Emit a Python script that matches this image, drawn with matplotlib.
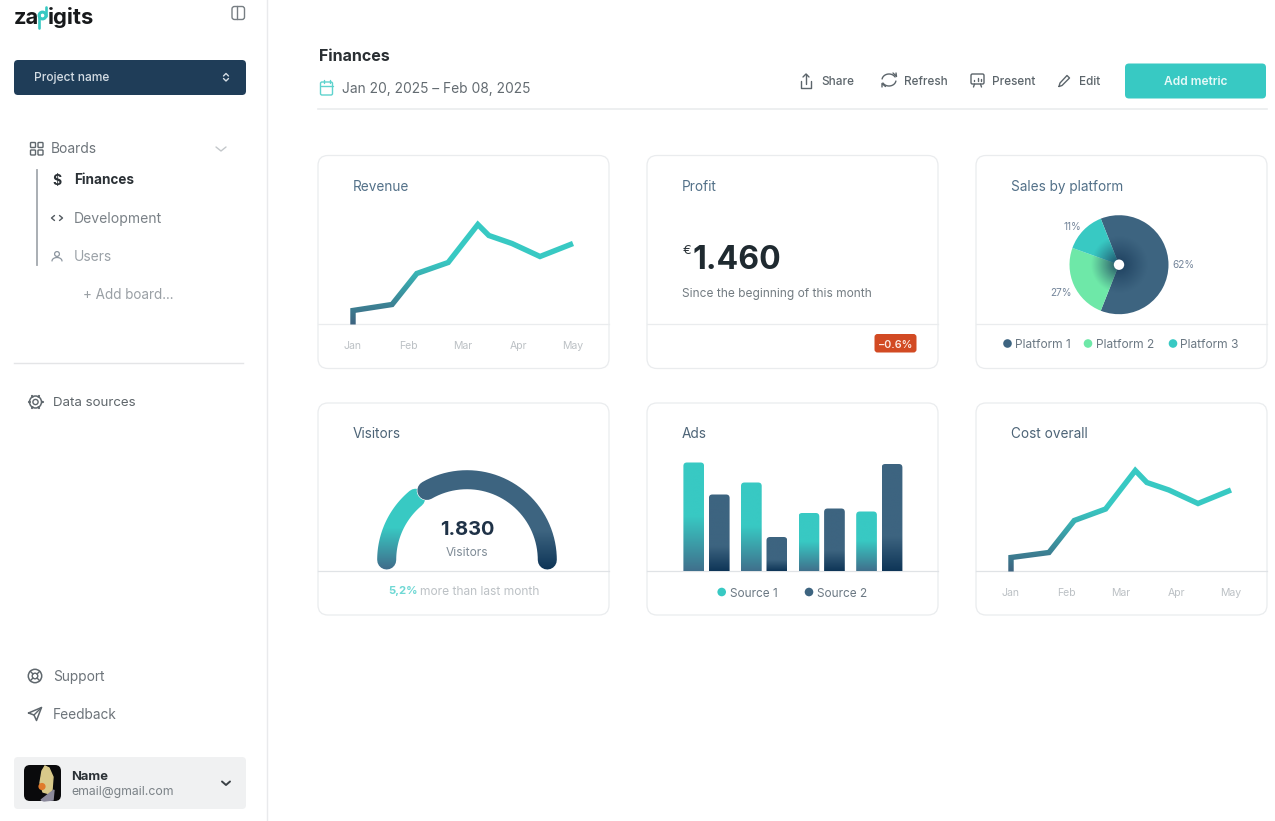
import numpy as np
import matplotlib
matplotlib.use("Agg")
import matplotlib.pyplot as plt
from matplotlib.colors import to_rgb
from matplotlib.patches import FancyBboxPatch, Circle
from matplotlib.transforms import Bbox

W, H = 1275, 821
plt.rcParams['font.family'] = ['Inter', 'DejaVu Sans']

TEAL = '#38c9c3'
NAVY = '#3d6480'
DEEP = '#0e3557'
MINT = '#6ee8a8'
BORDER = '#eaecee'

# data
months = ['Jan', 'Feb', 'Mar', 'Apr', 'May']
revenue_x = [0, 0, 0.71, 1.16, 1.73, 2.27, 2.47, 2.89, 3.4, 4.0]
revenue_y = [0, 14, 20, 51, 62, 100, 89, 81, 68, 81]
cost_x = [0, 0, 0.69, 1.15, 1.72, 2.26, 2.47, 2.87, 3.4, 4.0]
cost_y = [0, 14, 19, 51, 62.5, 101, 89, 81.5, 68, 81.5]
pie_values = [62, 24.5, 13.5]
pie_labels = ['62%', '27%', '11%']
platforms = ['Platform 1', 'Platform 2', 'Platform 3']
ads_source1 = [109, 89, 58.5, 60]
ads_source2 = [77, 34.5, 63, 107.5]
gauge_teal_deg = [180, 129.7]
gauge_navy_deg = [120, 0]
profit_value = '1.460'
visitors_value = '1.830'

fig = plt.figure(figsize=(W / 100, H / 100), dpi=100, facecolor='white')
ui = fig.add_axes([0, 0, 1, 1], zorder=0)
ui.set_xlim(0, W)
ui.set_ylim(H, 0)
ui.axis('off')


def px_axes(x0, y0, x1, y1):
    ax = fig.add_axes([x0 / W, 1 - y1 / H, (x1 - x0) / W, (y1 - y0) / H], zorder=2)
    ax.patch.set_alpha(0)
    return ax


def txt(x, y, s, size, color, weight='normal', ha='left', va='center_baseline'):
    # size is in pixels of the 100 dpi figure
    return ui.text(x, y, s, fontsize=size * 0.72, color=color, fontweight=weight, ha=ha, va=va)


def box(x0, y0, x1, y1, r, fc, ec='none', lw=0, zorder=1):
    p = FancyBboxPatch((x0 + r, y0 + r), x1 - x0 - 2 * r, y1 - y0 - 2 * r,
                       boxstyle='round,pad=%f,rounding_size=%f' % (r, r),
                       fc=fc, ec=ec, lw=lw, zorder=zorder)
    ui.add_patch(p)
    return p


def ln(xs, ys, color, lw=1.0, **kw):
    ui.plot(xs, ys, color=color, lw=lw, solid_capstyle=kw.pop('cap', 'round'),
            solid_joinstyle='round', zorder=kw.pop('zorder', 3), **kw)


def ring(x, y, r, color, lw=1.0, fc='none'):
    ui.add_patch(Circle((x, y), r, fc=fc, ec=color, lw=lw, zorder=3))


def mix(c1, c2, t):
    a, b = np.array(to_rgb(c1)), np.array(to_rgb(c2))
    return tuple(a + (b - a) * t)


def gradient_stroke(ax, xs, ys, top_px, bot_px, c_top, c_bot, **kw):
    # same line drawn once per pixel row, each copy clipped to its row
    top_px, bot_px = int(top_px), int(bot_px)
    rows = [(0, top_px, c_top)]
    for row in range(top_px, bot_px):
        rows.append((row, row + 1, mix(c_top, c_bot, (row - top_px) / (bot_px - top_px - 1))))
    rows.append((bot_px, H, c_bot))
    for r0, r1, c in rows:
        line, = ax.plot(xs, ys, color=c, **kw)
        line.set_snap(False)
        line.set_clip_box(Bbox([[0, H - r1], [W, H - r0]]))


def trend(jan_px, base_px, xs, ys):
    ax = px_axes(jan_px, base_px - 110, jan_px + 220, base_px)
    ax.set_xlim(0, 4)
    ax.set_ylim(0, 110)
    ax.set_frame_on(False)
    ax.set_yticks([])
    ax.set_xticks(range(len(months)))
    ax.set_xticklabels(months, fontsize=10.5 * 0.72, color='#bcc1c5')
    ax.tick_params(axis='x', length=0, pad=12.2)
    gradient_stroke(ax, xs, ys, base_px - 65, base_px, TEAL, NAVY, lw=3.9,
                    solid_capstyle='butt', solid_joinstyle='miter')


# page frame
ui.plot([267, 267], [0, H], color='#e9eaec', lw=1.0)
ui.plot([318, 1267], [109.5, 109.5], color=BORDER, lw=1.2)

# cards
for cx0, cx1 in [(318, 609), (647, 938), (976, 1267)]:
    box(cx0, 155.5, cx1, 368.5, 10, 'white', BORDER, 0.9)
    box(cx0, 403, cx1, 615, 10, 'white', BORDER, 0.9)
    ui.plot([cx0, cx1], [324.5, 324.5], color=BORDER, lw=0.9, zorder=2)
    ui.plot([cx0, cx1], [571.5, 571.5], color='#e0e3e6', lw=0.9, zorder=2)

for x, y, s in [(353, 185.2, 'Revenue'), (682, 185.2, 'Profit'), (1011, 185.2, 'Sales by platform'),
                (353, 432, 'Visitors'), (682, 432, 'Ads'), (1011, 432, 'Cost overall')]:
    txt(x, y, s, 13.6, '#527088' if y < 300 else '#4d6477')

# line charts
trend(353, 324.5, revenue_x, revenue_y)
trend(1011, 571.5, cost_x, cost_y)

# profit card
txt(682.5, 249, '€', 13, '#2b3338')
txt(692, 257, profit_value, 32, '#1f2a30', 'bold')
txt(682, 292, 'Since the beginning of this month', 11.95, '#737c82')
box(874.5, 334, 916.5, 352.5, 3, '#d24a23')
txt(895.5, 343.5, '−0.6%', 10.8, '#fbe9e2', 'semibold', ha='center')

# pie
pie_ax = px_axes(1119 - 49.5, 264.7 - 49.5, 1119 + 49.5, 264.7 + 49.5)
wedges, _ = pie_ax.pie(pie_values, colors=[NAVY, MINT, TEAL], startangle=111.6, counterclock=False,
                       radius=1, wedgeprops=dict(linewidth=0))
gy, gx = np.mgrid[-1:1:300j, -1:1:300j]
rad = np.hypot(gx, gy)
shade = np.zeros(rad.shape + (4,))
shade[..., :3] = to_rgb('#1b3d5c')
shade[..., 3] = 0.92 * np.clip(1 - rad / 0.58, 0, 1) ** 1.1
im = pie_ax.imshow(shade, extent=(-1, 1, -1, 1), zorder=3, interpolation='bilinear')
im.set_clip_path(Circle((0, 0), 1, transform=pie_ax.transData))
pie_ax.add_patch(Circle((0, 0), 0.105, fc='white', ec='none', zorder=4))
pie_ax.set_xlim(-1, 1)
pie_ax.set_ylim(-1, 1)
for (x, y), s in zip([(1172, 263.5), (1050, 292), (1063, 226.5)], pie_labels):
    txt(x, y, s, 10, '#74859a')
for (dot_x, c), s in zip([(1007.5, NAVY), (1088, MINT), (1173, TEAL)], platforms):
    ui.add_patch(Circle((dot_x, 343.5), 4.3, fc=c, ec='none', zorder=3))
    txt(dot_x + 7.5, 344, s, 12, '#6b7883')

# gauge
g_ax = px_axes(367, 460, 567, 570)
g_ax.set_xlim(-100, 100)
g_ax.set_ylim(-10, 100)
g_ax.axis('off')
t = np.radians(np.linspace(gauge_teal_deg[0], gauge_teal_deg[1], 120))
gradient_stroke(g_ax, 80.3 * np.cos(t), 80.3 * np.sin(t), 527, 568, TEAL, '#3f6f8c',
                lw=13.7, solid_capstyle='round')
t = np.radians(np.linspace(gauge_navy_deg[0], gauge_navy_deg[1], 200))
g_ax.plot(80.3 * np.cos(t), 80.3 * np.sin(t), color='white', lw=14.6, solid_capstyle='round', clip_on=False)
gradient_stroke(g_ax, 80.3 * np.cos(t), 80.3 * np.sin(t), 530, 569, NAVY, DEEP,
                lw=13.7, solid_capstyle='round')
txt(467, 528, visitors_value, 20, '#1f3247', 'bold', ha='center')
txt(467, 551, 'Visitors', 12, '#7f8b96', ha='center')
txt(388, 590.5, '5,2%', 11.3, '#6fd8d4', 'bold')
txt(419.5, 590.5, 'more than last month', 12, '#bcc1c5')

# bars
step = 57.6
ads_ax = px_axes(648, 455, 938, 571.5)
xlim = ((648 - 706.5) / step, (938 - 706.5) / step)
ads_ax.axis('off')
bar_w = 20.7 / step


def grad_bar(x, h, c_top, c_bot, frac):
    f = np.linspace(1, 0, 200)[:, None]  # 1 at the top of the bar
    k = np.clip((frac - f) / frac, 0, 1)
    rgb = np.array(to_rgb(c_top)) + (np.array(to_rgb(c_bot)) - np.array(to_rgb(c_top))) * k[..., None]
    g = ads_ax.imshow(rgb, extent=(x - bar_w / 2, x + bar_w / 2, 0, h), aspect='auto', interpolation='bilinear')
    rad_x = 3.5 / step
    clip = FancyBboxPatch((x - bar_w / 2 + rad_x, -10), bar_w - 2 * rad_x, h + 10 - 3.5,
                          boxstyle='round,pad=%f,rounding_size=%f' % (rad_x, rad_x),
                          mutation_aspect=step, transform=ads_ax.transData, fc='none', ec='none')
    g.set_clip_path(clip)


for i, (a, b) in enumerate(zip(ads_source1, ads_source2)):
    grad_bar(i - 25.5 / step / 2, a, TEAL, '#40708c', 0.5)
    grad_bar(i + 25.5 / step / 2, b, NAVY, DEEP, 0.32)
ads_ax.set_xlim(*xlim)
ads_ax.set_ylim(0, 116.5)
for dot_x, c, s in [(721.7, TEAL, 'Source 1'), (809, NAVY, 'Source 2')]:
    ui.add_patch(Circle((dot_x, 592), 4.3, fc=c, ec='none', zorder=3))
    txt(dot_x + 8, 592.5, s, 11.8, '#6b7883')

# header
txt(319, 55, 'Finances', 16, '#2a2f33', 'bold')
txt(342, 88, 'Jan 20, 2025 – Feb 08, 2025', 13.8, '#636b71')
box(320.5, 82, 332.5, 95, 1.5, 'none', '#5fd3ce', 1.0, zorder=3)
ln([320.5, 332.5], [86, 86], '#5fd3ce')
ln([323.5, 323.5], [80.5, 83], '#5fd3ce')
ln([329.5, 329.5], [80.5, 83], '#5fd3ce')

for x, s in [(821, 'Share'), (904, 'Refresh'), (992, 'Present'), (1079, 'Edit')]:
    txt(x, 80.5, s, 11.7, '#5c656b', 'medium')
ic = '#5c656b'
# share
ln([801, 801, 811, 811], [81, 88, 88, 81], ic)
ln([806, 806], [84, 74], ic)
ln([803, 806, 809], [77, 74, 77], ic)
# refresh
a1 = np.radians(np.linspace(30, 170, 20))
ln(889 + 7 * np.cos(a1), 80 - 6 * np.sin(a1), ic)
a2 = np.radians(np.linspace(210, 350, 20))
ln(889 + 7 * np.cos(a2), 80 - 6 * np.sin(a2), ic)
ln([893, 896.5, 896], [73, 76.5, 73], ic)
ln([882, 882, 885.5], [87, 83.5, 86.5], ic)
# present
box(971, 74, 984, 84, 1.5, 'none', ic, 1.0, zorder=3)
ln([974, 974], [80, 81.5], ic)
ln([977.5, 977.5], [78, 81.5], ic)
ln([981, 981], [79, 81.5], ic)
ln([974.5, 973.5], [84, 87], ic)
ln([980.5, 981.5], [84, 87], ic)
# edit
ln([1059, 1060, 1067, 1069.5, 1062, 1059], [86.5, 83, 75.5, 78, 85.5, 86.5], ic)
box(1125, 63.5, 1266, 98.5, 4, TEAL)
txt(1195.5, 80.5, 'Add metric', 12, '#e6f9f8', 'semibold', ha='center')

# sidebar: logo
txt(13.5, 16, 'za', 22, '#17191b', 'bold')
txt(47.5, 16, 'igits', 22, '#17191b', 'bold')
ring(42.5, 15.5, 3.4, TEAL, lw=2.2)
ln([46.4, 46.4], [7, 16], TEAL, lw=1.9)
ln([38.8, 38.8], [15, 28], TEAL, lw=1.9)
# collapse icon
box(232, 6.5, 244.5, 19.5, 2.5, 'none', '#777e83', 1.0, zorder=3)
ln([236.5, 236.5], [6.5, 19.5], '#777e83')

box(14, 60, 246, 95, 4, '#1f3d58')
txt(34, 77, 'Project name', 12, '#d5dee5', 'medium')
ln([223.5, 226, 228.5], [76, 73.5, 76], '#d5dee5')
ln([223.5, 226, 228.5], [78.5, 81, 78.5], '#d5dee5')

# boards
for bx, by in [(30.5, 142.5), (38, 142.5), (30.5, 150), (38, 150)]:
    box(bx, by, bx + 5, by + 5, 0.8, 'none', '#5f676d', 1.0, zorder=3)
txt(51, 147.8, 'Boards', 13.8, '#6d747a')
ln([216, 221, 226], [147, 151, 147], '#c3c7ca')
ui.plot([37, 37], [170, 265], color='#a3a8ae', lw=1.3)
txt(57, 179, '$', 14, '#2b3136', 'bold', ha='center')
txt(74, 179, 'Finances', 13.5, '#2b3136', 'bold')
ln([54.5, 51.5, 54.5], [215.5, 218, 220.5], '#555c62')
ln([59.5, 62.5, 59.5], [215.5, 218, 220.5], '#555c62')
txt(74, 217.5, 'Development', 14, '#7a8187')
ring(57, 254, 2.4, '#8d96a0', lw=0.9)
a3 = np.radians(np.linspace(0, 180, 15))
ln(57 + 5 * np.cos(a3), 261 - 3.5 * np.sin(a3), '#8d96a0', lw=0.9)
txt(74, 255.5, 'Users', 13.8, '#9aa1a7')
txt(83, 293.7, '+ Add board...', 13.5, '#9aa0a5')

ui.plot([14, 243], [363.5, 363.5], color='#e4e5e7', lw=1.0)
ring(35.5, 402, 2.6, '#5f676d', lw=1.0)
ring(35.5, 402, 6, '#5f676d', lw=1.1)
for deg in range(0, 360, 60):
    ca, sa = np.cos(np.radians(deg)), np.sin(np.radians(deg))
    ln([35.5 + 6 * ca, 35.5 + 7 * ca], [402 + 6 * sa, 402 + 7 * sa], '#5f676d', lw=1.6)
txt(53, 401.2, 'Data sources', 13.3, '#5f666b')

ring(35, 676, 6.7, '#5f676d', lw=1.1)
ring(35, 676, 2.8, '#5f676d', lw=1.0)
for deg in (45, 135, 225, 315):
    ca, sa = np.cos(np.radians(deg)), np.sin(np.radians(deg))
    ln([35 + 2.8 * ca, 35 + 6.7 * ca], [676 + 2.8 * sa, 676 + 6.7 * sa], '#5f676d', lw=1.0)
txt(53, 676, 'Support', 13.7, '#6d747a')
ln([28.5, 41.5, 36.5, 34, 28.5], [713, 707.5, 720.5, 715, 713], '#5f676d', lw=1.1)
ln([34, 41.5], [715, 707.5], '#5f676d', lw=1.0)
txt(53, 713.5, 'Feedback', 13.7, '#6d747a')

# account
box(14, 757, 246, 809, 4, '#f0f1f2')
box(24, 765, 61, 801, 6, '#0a0a0c', zorder=3)
ui.fill([42, 45, 49, 53, 52, 50, 43, 40], [771, 766, 768, 777, 790, 794, 792, 783], color='#d9c98a', zorder=4)
ui.fill([41, 50, 54, 53, 44], [800, 793, 790, 800, 801], color='#8c8a9c', zorder=4)
ui.add_patch(Circle((42, 786.5), 3.6, fc='#e07a2c', ec='none', zorder=5))
txt(71, 775, 'Name', 13, '#2b3136', 'bold')
txt(71, 790, 'email@gmail.com', 12.3, '#7b8287')
ln([222, 226, 230], [781.5, 785, 781.5], '#3a4045', lw=1.4)

fig.savefig('out.png', dpi=100, facecolor='white')
